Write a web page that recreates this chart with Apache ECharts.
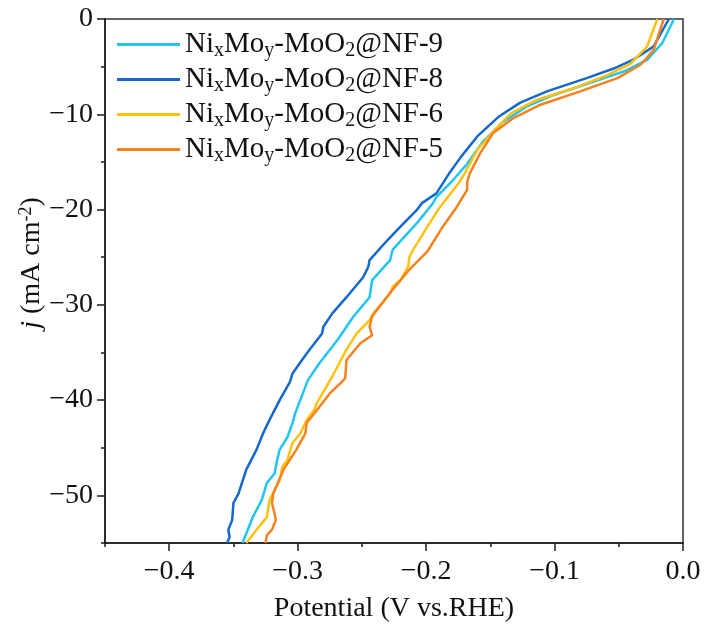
<!DOCTYPE html>
<html><head><meta charset="utf-8">
<script src="https://cdn.jsdelivr.net/npm/echarts@6/dist/echarts.min.js"></script>
<style>html,body{margin:0;padding:0;background:#fff}#c{width:706px;height:635px}</style>
</head><body><div id="c"></div>
<script>
// ---- data (potential V vs RHE, current density mA cm^-2) ----
const seriesNames = ['NixMoy-MoO2@NF-9', 'NixMoy-MoO2@NF-8', 'NixMoy-MoO2@NF-6', 'NixMoy-MoO2@NF-5'];
const seriesColors = ['#22C4F0', '#1569CC', '#FFC10E', '#F5821F'];

const nf9 = [[-0.007,0],[-0.016,-2.5],[-0.028,-4.3],[-0.044,-5.4],[-0.070,-6.6],[-0.101,-8.0],[-0.122,-9.2],[-0.140,-10.8],[-0.156,-12.9],[-0.168,-15.2],[-0.179,-16.9],[-0.192,-18.7],[-0.195,-19.4],[-0.207,-21.4],[-0.226,-24.2],[-0.228,-25.3],[-0.242,-27.4],[-0.244,-29.2],[-0.257,-31.3],[-0.269,-33.7],[-0.283,-36.1],[-0.292,-37.9],[-0.298,-40.0],[-0.302,-41.4],[-0.304,-42.4],[-0.308,-43.9],[-0.314,-45.2],[-0.316,-46.3],[-0.318,-47.7],[-0.324,-48.7],[-0.328,-50.5],[-0.335,-52.3],[-0.340,-54.0],[-0.343,-55]];
const nf8 = [[-0.011,0],[-0.023,-2.9],[-0.039,-4.3],[-0.054,-5.2],[-0.075,-6.2],[-0.106,-7.6],[-0.127,-8.8],[-0.143,-10.2],[-0.160,-12.3],[-0.173,-14.5],[-0.182,-16.2],[-0.192,-18.3],[-0.203,-19.3],[-0.207,-20.0],[-0.220,-21.8],[-0.230,-23.2],[-0.244,-25.3],[-0.245,-26.0],[-0.249,-27.1],[-0.262,-29.2],[-0.273,-30.9],[-0.280,-32.3],[-0.281,-33.0],[-0.293,-35.1],[-0.304,-37.2],[-0.306,-38.1],[-0.314,-40.0],[-0.322,-42.1],[-0.327,-43.5],[-0.332,-45.2],[-0.340,-47.3],[-0.346,-49.8],[-0.350,-50.8],[-0.351,-52.6],[-0.354,-53.6],[-0.353,-54.4],[-0.355,-55]];
const nf6 = [[-0.020,0],[-0.028,-2.9],[-0.041,-4.7],[-0.059,-5.9],[-0.086,-7.3],[-0.114,-8.5],[-0.134,-9.9],[-0.147,-11.7],[-0.160,-13.7],[-0.170,-16.2],[-0.174,-17.1],[-0.189,-19.7],[-0.199,-21.8],[-0.210,-24.2],[-0.213,-25.0],[-0.214,-26.0],[-0.220,-27.4],[-0.226,-28.1],[-0.228,-28.8],[-0.241,-30.9],[-0.244,-31.6],[-0.254,-33.0],[-0.262,-34.7],[-0.273,-37.5],[-0.285,-40.3],[-0.287,-41.0],[-0.293,-42.1],[-0.298,-43.5],[-0.304,-44.5],[-0.308,-46.3],[-0.312,-47.0],[-0.314,-48.4],[-0.322,-50.5],[-0.324,-52.3],[-0.332,-53.6],[-0.340,-55]];
const nf5 = [[-0.015,0],[-0.023,-3.3],[-0.033,-4.8],[-0.051,-6.2],[-0.080,-7.6],[-0.111,-9.0],[-0.132,-10.4],[-0.148,-12.0],[-0.158,-14.1],[-0.166,-16.2],[-0.168,-17.1],[-0.168,-17.9],[-0.176,-19.7],[-0.187,-21.8],[-0.199,-24.4],[-0.213,-26.3],[-0.226,-28.4],[-0.242,-31.2],[-0.244,-32.3],[-0.242,-33.2],[-0.251,-34.0],[-0.262,-35.8],[-0.263,-37.7],[-0.265,-38.0],[-0.275,-39.3],[-0.283,-40.7],[-0.293,-42.4],[-0.294,-43.5],[-0.301,-45.2],[-0.311,-47.3],[-0.319,-49.8],[-0.320,-50.8],[-0.318,-51.9],[-0.317,-52.6],[-0.320,-53.6],[-0.324,-54.2],[-0.325,-55]];
const seriesData = [nf9, nf8, nf6, nf5];

// axis ranges and tick steps
const xRange = [-0.45, 0];
const yRange = [-55, 0];
const xStep = 0.1;
const yStep = 10;

const FONT = 'Liberation Serif';
const AX = '#1a1a1a';
const TXT = '#111';
const fmtX = v => Math.abs(v) < 1e-9 ? '0.0' : '\u2212' + Math.abs(v).toFixed(1);
const fmtY = v => Math.abs(v) < 1e-9 ? '0' : '\u2212' + Math.abs(v);

const gridRect = {left: 105, right: 23, top: 19, bottom: 92};

const chart = echarts.init(document.getElementById('c'), null, {renderer: 'canvas'});
chart.setOption({
  animation: false,
  backgroundColor: '#fff',
  grid: [
    Object.assign({show: true, borderColor: '#333', borderWidth: 1.5, backgroundColor: 'transparent'}, gridRect),
    Object.assign({show: false}, gridRect)
  ],
  legend: {
    orient: 'vertical', left: 112, top: 23, itemGap: 2,
    icon: 'rect', itemWidth: 63, itemHeight: 3,
    data: seriesNames,
    formatter: name => 'Ni{sub|x}Mo{sub|y}-MoO{sub|2}@' + name.split('@')[1],
    textStyle: {
      fontFamily: FONT, fontSize: 29, color: TXT, lineHeight: 33,
      rich: {sub: {fontFamily: FONT, fontSize: 20, lineHeight: 20, verticalAlign: 'bottom', color: TXT}}
    }
  },
  xAxis: [{
    gridIndex: 0, type: 'value', min: xRange[0], max: xRange[1], interval: xStep,
    axisLine: {show: true, onZero: false, lineStyle: {color: AX, width: 1.5}},
    axisTick: {show: true, length: 4, lineStyle: {color: AX, width: 1.5}},
    axisLabel: {show: false},
    splitLine: {show: false}
  }, {
    gridIndex: 1, type: 'value', min: 0, max: -xRange[0], interval: xStep, inverse: true,
    name: 'Potential (V vs.RHE)', nameLocation: 'middle', nameGap: 52, nameMoveOverlap: false,
    nameTextStyle: {fontFamily: FONT, fontSize: 28, color: TXT},
    axisLine: {show: false, onZero: false},
    axisTick: {show: true, length: 8, lineStyle: {color: AX, width: 1.5}},
    axisLabel: {show: true, margin: 15, showMaxLabel: false, formatter: v => fmtX(-v), fontFamily: FONT, fontSize: 28, color: TXT},
    splitLine: {show: false}
  }],
  yAxis: [{
    gridIndex: 0, type: 'value', min: yRange[0], max: yRange[1], interval: yStep,
    axisLine: {show: true, onZero: false, lineStyle: {color: AX, width: 1.5}},
    axisTick: {show: true, length: 4, lineStyle: {color: AX, width: 1.5}},
    axisLabel: {show: false},
    splitLine: {show: false}
  }, {
    gridIndex: 1, type: 'value', min: 0, max: -yRange[0], interval: yStep, inverse: true,
    name: '{i|j} (mA cm{sup|-2})', nameLocation: 'middle', nameGap: 58, nameRotate: 90, nameMoveOverlap: false,
    nameTextStyle: {
      fontFamily: FONT, fontSize: 28, color: TXT, lineHeight: 30, padding: [0, 0, 0, 36],
      rich: {
        i: {fontFamily: FONT, fontSize: 28, fontStyle: 'italic', color: TXT},
        sup: {fontFamily: FONT, fontSize: 18, lineHeight: 18, verticalAlign: 'top', color: TXT}
      }
    },
    axisLine: {show: false, onZero: false},
    axisTick: {show: true, length: 8, lineStyle: {color: AX, width: 1.5}},
    axisLabel: {show: true, margin: 12, showMaxLabel: false, formatter: v => fmtY(-v), fontFamily: FONT, fontSize: 28, color: TXT},
    splitLine: {show: false}
  }],
  series: seriesNames.map((n, i) => ({
    name: n, type: 'line', data: seriesData[i],
    xAxisIndex: 0, yAxisIndex: 0,
    showSymbol: false, symbol: 'none', smooth: false, clip: true,
    color: seriesColors[i],
    lineStyle: {color: seriesColors[i], width: 2.5}
  }))
});
</script>
</body></html>
